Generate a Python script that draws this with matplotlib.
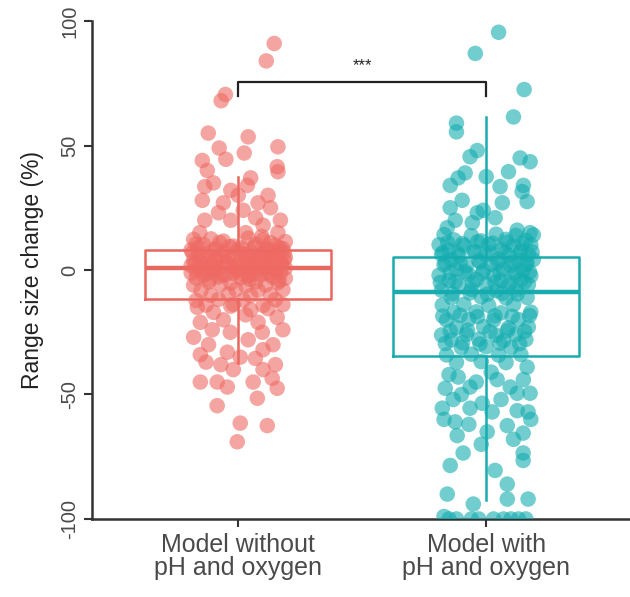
import matplotlib
matplotlib.use("Agg")
import matplotlib.pyplot as plt

# ---------------- data ----------------
categories = ["Model without\npH and oxygen", "Model with\npH and oxygen"]
y_ticks = [-100, -50, 0, 50, 100]

# box statistics: q1, median, q3, whisker low, whisker high
box_q1 = [-11.6, -34.5]
box_med = [1.0, -8.7]
box_q3 = [8.0, 5.2]
box_wlo = [-37.5, -92.4]
box_whi = [37.5, 61.6]

# group 1 (without pH and oxygen): horizontal jitter and values
g1_jitter = [
    0.145, 0.113, -0.052, -0.069, -0.121, 0.04, -0.077, 0.024, 0.16, -0.145, -0.05, 0.157,
    -0.125, 0.16, -0.135, 0.037, -0.03, -0.145, 0.08, 0.13, 0.17, -0.135, -0.08, -0.03,
    -0.155, 0.03, 0.1, 0.16, 0.0, 0.05, -0.1, 0.12, -0.06, 0.02, 0.07, -0.11, 0.13, -0.17, 0.185,
    -0.18, -0.06, 0.04, 0.1, 0.19,
    -0.14, -0.02, 0.07, 0.15,
    -0.19, -0.1, 0.0, 0.12, 0.18,
    -0.16, -0.07, 0.03, 0.09, 0.16,
    -0.12, -0.04, 0.06, 0.19,
    -0.18, -0.09, 0.01, 0.11, 0.14,
    -0.15, -0.05, 0.05, 0.17,
    -0.19, -0.11, -0.01, 0.08, 0.13,
    -0.13, -0.03, 0.03, 0.1, 0.19,
    -0.17, -0.08, 0.0, 0.06, 0.15,
    -0.19, -0.1, -0.02, 0.12, 0.17,
    -0.14, -0.05, 0.04, 0.09,
    -0.17, -0.08, 0.01, 0.14, 0.19,
    -0.12, -0.03, 0.07, 0.16,
    -0.18, -0.07, 0.03, 0.11,
    -0.15, -0.01, 0.08, 0.18,
    -0.11, -0.04, 0.05, 0.13,
    -0.17, -0.08, 0.02, 0.15,
    -0.13, -0.02, 0.1, 0.18,
    -0.165, 0.157, -0.153, -0.105, -0.032, 0.08, 0.097, 0.14, -0.153, -0.044, 0.069, 0.008,
    -0.153, -0.085, -0.044, 0.06, 0.077, 0.137, 0.157, -0.085, 0.008, 0.117, -0.004,
    -0.1, 0.03, 0.12, -0.06, 0.18, -0.18, 0.04, -0.12, 0.1, -0.07, 0.15, -0.02, 0.1, -0.13,
    0.05, -0.03,
    # extra points in the dense core
    -0.16, -0.09, -0.035, 0.015, 0.065, 0.115, 0.165,
    -0.185, -0.125, -0.055, 0.005, 0.055, 0.105, 0.155,
    -0.145, -0.085, -0.025, 0.035, 0.085, 0.135, 0.185,
    -0.175, -0.105, -0.045, 0.025, 0.075, 0.125, 0.175,
    -0.155, -0.095, -0.015, 0.045, 0.095, 0.145,
    -0.135, -0.065, 0.015, 0.065, 0.125,
    -0.115, 0.045, 0.165, -0.075, 0.095,
]
g1_values = [
    91, 84, 70.5, 68, 55, 53.5, 49, 47, 49.5, 44, 44.5, 41.5,
    40, 39.5, 33.5, 34, 32, 28, 27, 25, 20, 20, 23, 20,
    15, 15, 18, 15, 30, 37, 35, 30, 27, 24, 21, 12.5, 11, 10.5, 7,
    12.3, 11.6, 12.8, 12.1, 11.4,
    10.2, 9.6, 10.4, 9.9,
    8.1, 7.7, 8.4, 7.9, 8.6,
    6.2, 5.8, 6.5, 6.1, 5.7,
    4.9, 5.3, 4.7, 5.1,
    3.8, 4.2, 3.6, 4.4, 3.9,
    2.9, 3.3, 2.7, 3.1,
    1.8, 2.2, 1.6, 2.4, 1.9,
    0.9, 1.3, 0.7, 1.1, 0.8,
    -0.2, 0.2, -0.1, 0.3, -0.3,
    -1.1, -0.8, -1.3, -0.9, -1.2,
    -2.1, -1.8, -2.3, -2.0,
    -3.2, -2.8, -3.1, -2.9, -3.3,
    -4.9, -5.2, -4.8, -5.1,
    -6.1, -5.8, -6.3, -6.0,
    -8.2, -7.8, -8.1, -7.9,
    -10.1, -9.7, -10.3, -9.9,
    -12.2, -11.8, -12.1, -11.9,
    -14.1, -13.8, -14.2, -13.9,
    -15, -19, -21, -24, -25, -21, -25, -30, -34, -33, -35.5, -35,
    -45, -45, -47, -45, -51.5, -43.5, -47.5, -54.5, -61.5, -62.5, -69,
    -17, -18, -15.5, -20, -24, -27, -28, -30, -32, -38, -38, -40, -40, -37,
    -16, -14.5,
    9.1, 8.7, 9.4, 8.9, 9.2, 8.6, 9.0,
    7.0, 6.8, 7.2, 6.9, 7.1, 6.7, 7.3,
    4.6, 4.3, 4.8, 4.5, 4.4, 4.7, 4.2,
    2.6, 2.3, 2.8, 2.5, 2.4, 2.7, 2.2,
    0.4, 0.1, 0.6, 0.3, 0.2, 0.5,
    -1.6, -1.9, -1.5, -1.7, -1.8,
    -4.0, -3.7, -4.2, 11.0, 13.5,
]

# group 2 (with pH and oxygen): horizontal jitter and values
g2_jitter = [
    0.05, -0.044, 0.153, 0.11, -0.12, -0.12, -0.036, -0.065, 0.137, 0.177, -0.085, -0.113,
    -0.145, 0.0, 0.09, 0.056, 0.15, 0.145, 0.165, -0.097, -0.145, 0.065, -0.036, -0.012,
    0.036, -0.125, -0.056, -0.157, 0.177, 0.125,
    -0.17, -0.06, 0.04, 0.12, 0.19,
    -0.13, -0.02, 0.08, 0.16,
    -0.19, -0.09, 0.01, 0.11, 0.18,
    -0.15, -0.05, 0.06, 0.14,
    -0.18, -0.11, 0.0, 0.09, 0.17,
    -0.14, -0.03, 0.05, 0.13, 0.19,
    -0.17, -0.08, 0.02, 0.1, 0.16,
    -0.12, -0.01, 0.07, 0.15,
    -0.19, -0.07, 0.03, 0.12, 0.18,
    -0.15, -0.04, 0.06, 0.14,
    -0.11, 0.0, 0.09, 0.17,
    -0.18, -0.06, 0.04, 0.12,
    -0.14, -0.02, 0.08, 0.165,
    -0.177, -0.09, 0.01, 0.11,
    -0.13, -0.04, 0.06, 0.18,
    -0.16, -0.07, 0.03, 0.13,
    -0.12, -0.01, 0.09, 0.17,
    -0.18, -0.08, 0.04, 0.12,
    -0.14, -0.03, 0.07, 0.16,
    -0.1, 0.0, 0.1,
    -0.16, -0.06, 0.05, 0.14,
    -0.12, -0.02, 0.08,
    0.165, -0.113, -0.165, -0.065, 0.044, 0.097, 0.125, 0.177, -0.177, -0.133, -0.065, -0.016,
    0.024, 0.125, 0.169, -0.125, 0.004, 0.085, 0.149, -0.117, -0.093, -0.145, 0.149, 0.149,
    0.036, 0.085, -0.157, -0.052, 0.085, 0.169,
    -0.15, -0.12, -0.06, -0.03, 0.03, 0.07, 0.1, 0.13, 0.16, -0.17,
    -0.15, 0.02, -0.04, 0.15, -0.1, 0.06, -0.17, 0.11, -0.02, 0.18, -0.07,
    # extra points in the dense core
    -0.155, -0.095, -0.035, 0.025, 0.085, 0.145,
    -0.175, -0.115, -0.045, 0.015, 0.075, 0.135, 0.185,
    -0.165, -0.105, -0.025, 0.045, 0.105, 0.165,
    -0.145, -0.085, -0.015, 0.055, 0.115, 0.175,
    -0.185, -0.125, -0.055, 0.035, 0.095, 0.155,
    -0.135, -0.065, 0.005, 0.065, 0.125,
    -0.175, -0.105, -0.035, 0.035, 0.105, 0.175,
    -0.145, -0.075, 0.015, 0.085, 0.155,
    -0.165, -0.095, -0.025, 0.055, 0.135,
]
g2_values = [
    95.5, 87, 72.5, 61.5, 59, 55.5, 48, 45.5, 45, 43.5, 39, 37,
    34, 37.5, 39.5, 33.5, 34, 31.5, 27.5, 28, 25, 27, 23, 24,
    21, 20, 19, 17, 15, 16,
    14.2, 13.8, 14.4, 13.9, 14.1,
    12.1, 11.7, 12.3, 11.9,
    10.2, 9.8, 10.3, 9.9, 10.1,
    8.1, 7.7, 8.3, 7.9,
    6.2, 5.8, 6.1, 5.9, 6.3,
    4.1, 3.8, 4.3, 3.9, 4.2,
    2.1, 1.8, 2.3, 1.9, 2.2,
    0.1, -0.2, 0.3, -0.1,
    -2.1, -1.8, -2.2, -1.9, -2.3,
    -4.1, -3.8, -4.2, -3.9,
    -6.1, -5.8, -6.2, -5.9,
    -8.1, -7.8, -8.3, -7.9,
    -11.1, -10.8, -11.2, -11.0,
    -14.1, -13.8, -14.2, -13.9,
    -17.1, -16.8, -17.2, -16.9,
    -20.1, -19.8, -20.2, -19.9,
    -23.1, -22.8, -23.2, -22.9,
    -26.1, -25.8, -26.2, -25.9,
    -28.1, -27.8, -28.3, -27.9,
    -31.1, -30.8, -31.2,
    -34.1, -33.8, -34.2, -33.9,
    -37.1, -36.8, -37.2,
    -39, -43, -47.5, -47, -44, -47, -49.5, -49.5, -55.5, -52, -55.5, -53.5,
    -57, -56.5, -57, -61, -65, -62.5, -65.5, -66.5, -73.5, -78.5, -73.5, -76.5,
    -80.5, -86, -90, -94, -92, -92,
    -100, -100, -100, -100, -100, -100, -100, -100, -100, -99,
    -42, -41, -45, -44, -50, -52, -60, -68, -70, -60, -62,
    11.0, 10.6, 11.3, 10.8, 11.1, 10.7,
    7.0, 6.7, 7.2, 6.9, 7.1, 6.8, 7.3,
    3.0, 2.7, 3.2, 2.9, 3.1, 2.8,
    -1.0, -0.7, -1.2, -0.9, -1.1, -0.8,
    -5.0, -4.7, -5.2, -4.9, -5.1, -4.8,
    -9.5, -9.2, -9.7, -9.4, -9.6,
    -18.5, -18.2, -18.7, -18.4, -18.6, -18.3,
    -24.5, -24.2, -24.7, -24.4, -24.6,
    -29.5, -29.2, -29.7, -29.4, -29.6,
]

# ---------------- styling ----------------
point_colors = ["#EE6A63", "#14ADB0"]
line_colors = ["#E8675F", "#19ABAE"]
positions = [1, 2]

fig = plt.figure(figsize=(6.30, 5.97), dpi=100)
ax = fig.add_axes([0.146, 0.1307, 0.854, 0.834])

stats = []
for i in range(2):
    stats.append(dict(q1=box_q1[i], med=box_med[i], q3=box_q3[i],
                      whislo=box_wlo[i], whishi=box_whi[i], fliers=[]))

for i in range(2):
    ax.bxp([stats[i]], positions=[positions[i]], widths=0.75, showfliers=False,
           showcaps=False, patch_artist=False,
           boxprops=dict(color=line_colors[i], linewidth=1.8),
           medianprops=dict(color=line_colors[i], linewidth=3.2),
           whiskerprops=dict(color=line_colors[i], linewidth=1.8),
           zorder=2)

groups = [(g1_jitter, g1_values), (g2_jitter, g2_values)]
for i, (jit, vals) in enumerate(groups):
    xs = [positions[i] + j for j in jit]
    ax.scatter(xs, vals, s=125, color=point_colors[i], alpha=0.6,
               edgecolors="none", zorder=3)

# significance bracket
br_y, br_tick = 75.5, 70.0
ax.plot([1, 1, 2, 2], [br_tick, br_y, br_y, br_tick], color="#222222",
        linewidth=1.6, zorder=4, clip_on=False)
ax.text(1.5, br_y + 3.5, "***", ha="center", va="bottom", fontsize=12,
        color="#222222", family="Liberation Sans")

ax.set_xlim(0.41, 2.58)
ax.set_ylim(-100, 100)
ax.set_xticks(positions)
ax.set_xticklabels(categories, fontsize=18, color="#4a4a4a",
                   family="Liberation Sans", linespacing=0.95)
ax.set_yticks(y_ticks)
ax.set_yticklabels([str(v) for v in y_ticks], rotation=90, va="center",
                   fontsize=14.5, color="#4a4a4a", family="Liberation Sans")
ax.set_ylabel("Range size change (%)", fontsize=16.5, color="#222222",
              family="Liberation Sans", labelpad=12)

for side in ["top", "right"]:
    ax.spines[side].set_visible(False)
for side in ["left", "bottom"]:
    ax.spines[side].set_color("#333333")
    ax.spines[side].set_linewidth(1.8)
ax.tick_params(axis="both", color="#333333", width=1.5, length=6)
ax.tick_params(axis="x", pad=4)
ax.tick_params(axis="y", pad=3)

fig.savefig("out.png", dpi=100, facecolor="white")
